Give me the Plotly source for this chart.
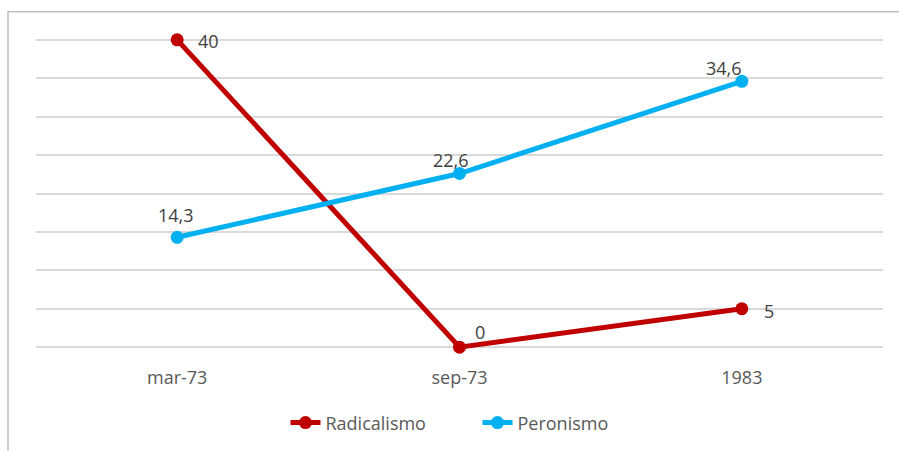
import plotly.graph_objects as go

categories = ["mar-73", "sep-73", "1983"]
radicalismo = [40, 0, 5]
peronismo = [14.3, 22.6, 34.6]
rad_labels = ["40", "0", "5"]
per_labels = ["14,3", "22,6", "34,6"]

# label offsets (pixels) relative to each point
rad_offsets = [(31, -1.5), (20, 15), (27, -2)]
per_offsets = [(-1, 22), (-9, 14), (-18, 13)]

W, H = 899, 451
pad = 0.5
ppu = 307 / 40.0
ml, mr = 36, 16
mt = 40 - pad * ppu
mb = 104 - pad * ppu
pw, ph = W - ml - mr, H - mt - mb

font_family = "Open Sans, DejaVu Sans, sans-serif"
txt_color = "#404040"
tick_color = "#595959"

fig = go.Figure()
fig.add_trace(go.Scatter(
    x=categories, y=radicalismo, name="Radicalismo", mode="lines+markers",
    line=dict(color="#C00000", width=5), marker=dict(color="#C00000", size=13),
    cliponaxis=False,
))
fig.add_trace(go.Scatter(
    x=categories, y=peronismo, name="Peronismo", mode="lines+markers",
    line=dict(color="#00B0F0", width=5), marker=dict(color="#00B0F0", size=13),
    cliponaxis=False,
))

annotations = []
for vals, labels, offs in [(radicalismo, rad_labels, rad_offsets), (peronismo, per_labels, per_offsets)]:
    for i, (v, t, (dx, dy)) in enumerate(zip(vals, labels, offs)):
        annotations.append(dict(x=i, y=v, xref="x", yref="y", text=t, showarrow=False,
                                xanchor="center", yanchor="middle", xshift=dx, yshift=dy,
                                font=dict(family=font_family, size=18, color=txt_color)))

fig.update_layout(
    width=W, height=H,
    margin=dict(l=ml, r=mr, t=mt, b=mb, autoexpand=False),
    paper_bgcolor="white", plot_bgcolor="white",
    font=dict(family=font_family, size=18, color=tick_color),
    showlegend=True,
    legend=dict(orientation="h", x=0.5 + 18 / pw, xanchor="center", y=-(415 - 347 + pad * ppu) / ph,
                yanchor="middle", font=dict(size=18, color=tick_color),
                entrywidth=147, entrywidthmode="pixels"),
    xaxis=dict(type="category", range=[-0.5, 2.5], showgrid=False, zeroline=False, showline=False,
               automargin=False, ticks="", tickfont=dict(size=18, color=tick_color), ticklabelstandoff=14),
    yaxis=dict(range=[-pad, 40 + pad], tickvals=[0, 5, 10, 15, 20, 25, 30, 35, 40],
               showgrid=True, gridcolor="#D9D9D9", gridwidth=1.5, automargin=False,
               zeroline=False, showticklabels=False, ticks="", showline=False),
    annotations=annotations,
    shapes=[dict(type="rect", xref="paper", yref="paper",
                 x0=(8 - ml) / pw, x1=(W + 20 - ml) / pw,
                 y0=-(H + 20 - mt - ph) / ph, y1=1 + (mt - 12) / ph,
                 line=dict(color="#BFBFBF", width=1.5), fillcolor="rgba(0,0,0,0)", layer="below")],
)

fig.write_html("out.html")
